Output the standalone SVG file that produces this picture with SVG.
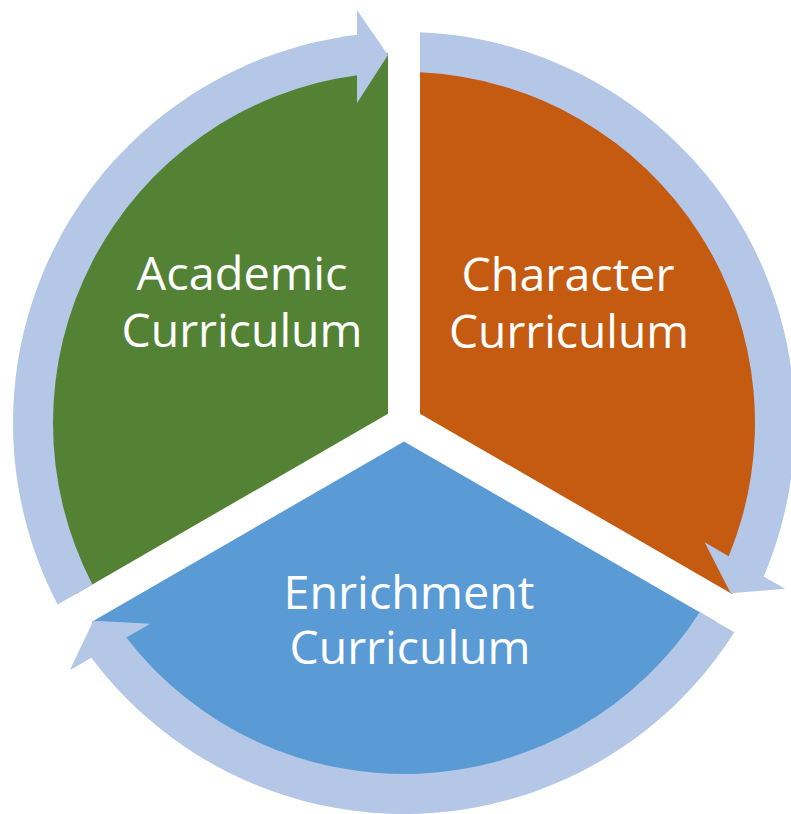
<svg xmlns="http://www.w3.org/2000/svg" xmlns:xlink="http://www.w3.org/1999/xlink" width="791" height="814" viewBox="0 0 791 814">
<style>
.label{font-family:"Open Sans","Liberation Sans",sans-serif;font-size:45px;fill:#FFFFFF;text-anchor:middle}
.ring{fill:#B4C7E7}
</style>
<defs>
<path id="sector" d="M 388 413.76 L 388 53.35 A 370 370 0 0 0 75.87 593.97 Z"/>
<path id="arrow" d="M 57.67 604.48 A 391 391 0 0 1 357 34.84 L 357 10 L 388 55 L 357 103 L 357 75.16 A 351 351 0 0 0 92.34 584.46 Z"/>
</defs>
<rect width="791" height="814" fill="#FFFFFF"/>
<g id="academic">
<use xlink:href="#sector" fill="#548235"/>
<text class="label" x="242" y="290" textLength="211" lengthAdjust="spacingAndGlyphs">Academic</text>
<text class="label" x="242" y="347" textLength="241" lengthAdjust="spacingAndGlyphs">Curriculum</text>
</g>
<g id="character">
<use xlink:href="#sector" fill="#C55A11" transform="rotate(120 404 423)"/>
<text class="label" x="568" y="291" textLength="213" lengthAdjust="spacingAndGlyphs">Character</text>
<text class="label" x="569" y="348" textLength="240" lengthAdjust="spacingAndGlyphs">Curriculum</text>
</g>
<g id="enrichment">
<use xlink:href="#sector" fill="#5B9BD5" transform="rotate(240 404 423)"/>
<text class="label" x="409" y="609" textLength="251" lengthAdjust="spacingAndGlyphs">Enrichment</text>
<text class="label" x="410" y="664" textLength="241" lengthAdjust="spacingAndGlyphs">Curriculum</text>
</g>
<g id="connectors">
<use xlink:href="#arrow" class="ring"/>
<use xlink:href="#arrow" class="ring" transform="rotate(120 404 423)"/>
<use xlink:href="#arrow" class="ring" transform="rotate(240 404 423)"/>
</g>
</svg>
